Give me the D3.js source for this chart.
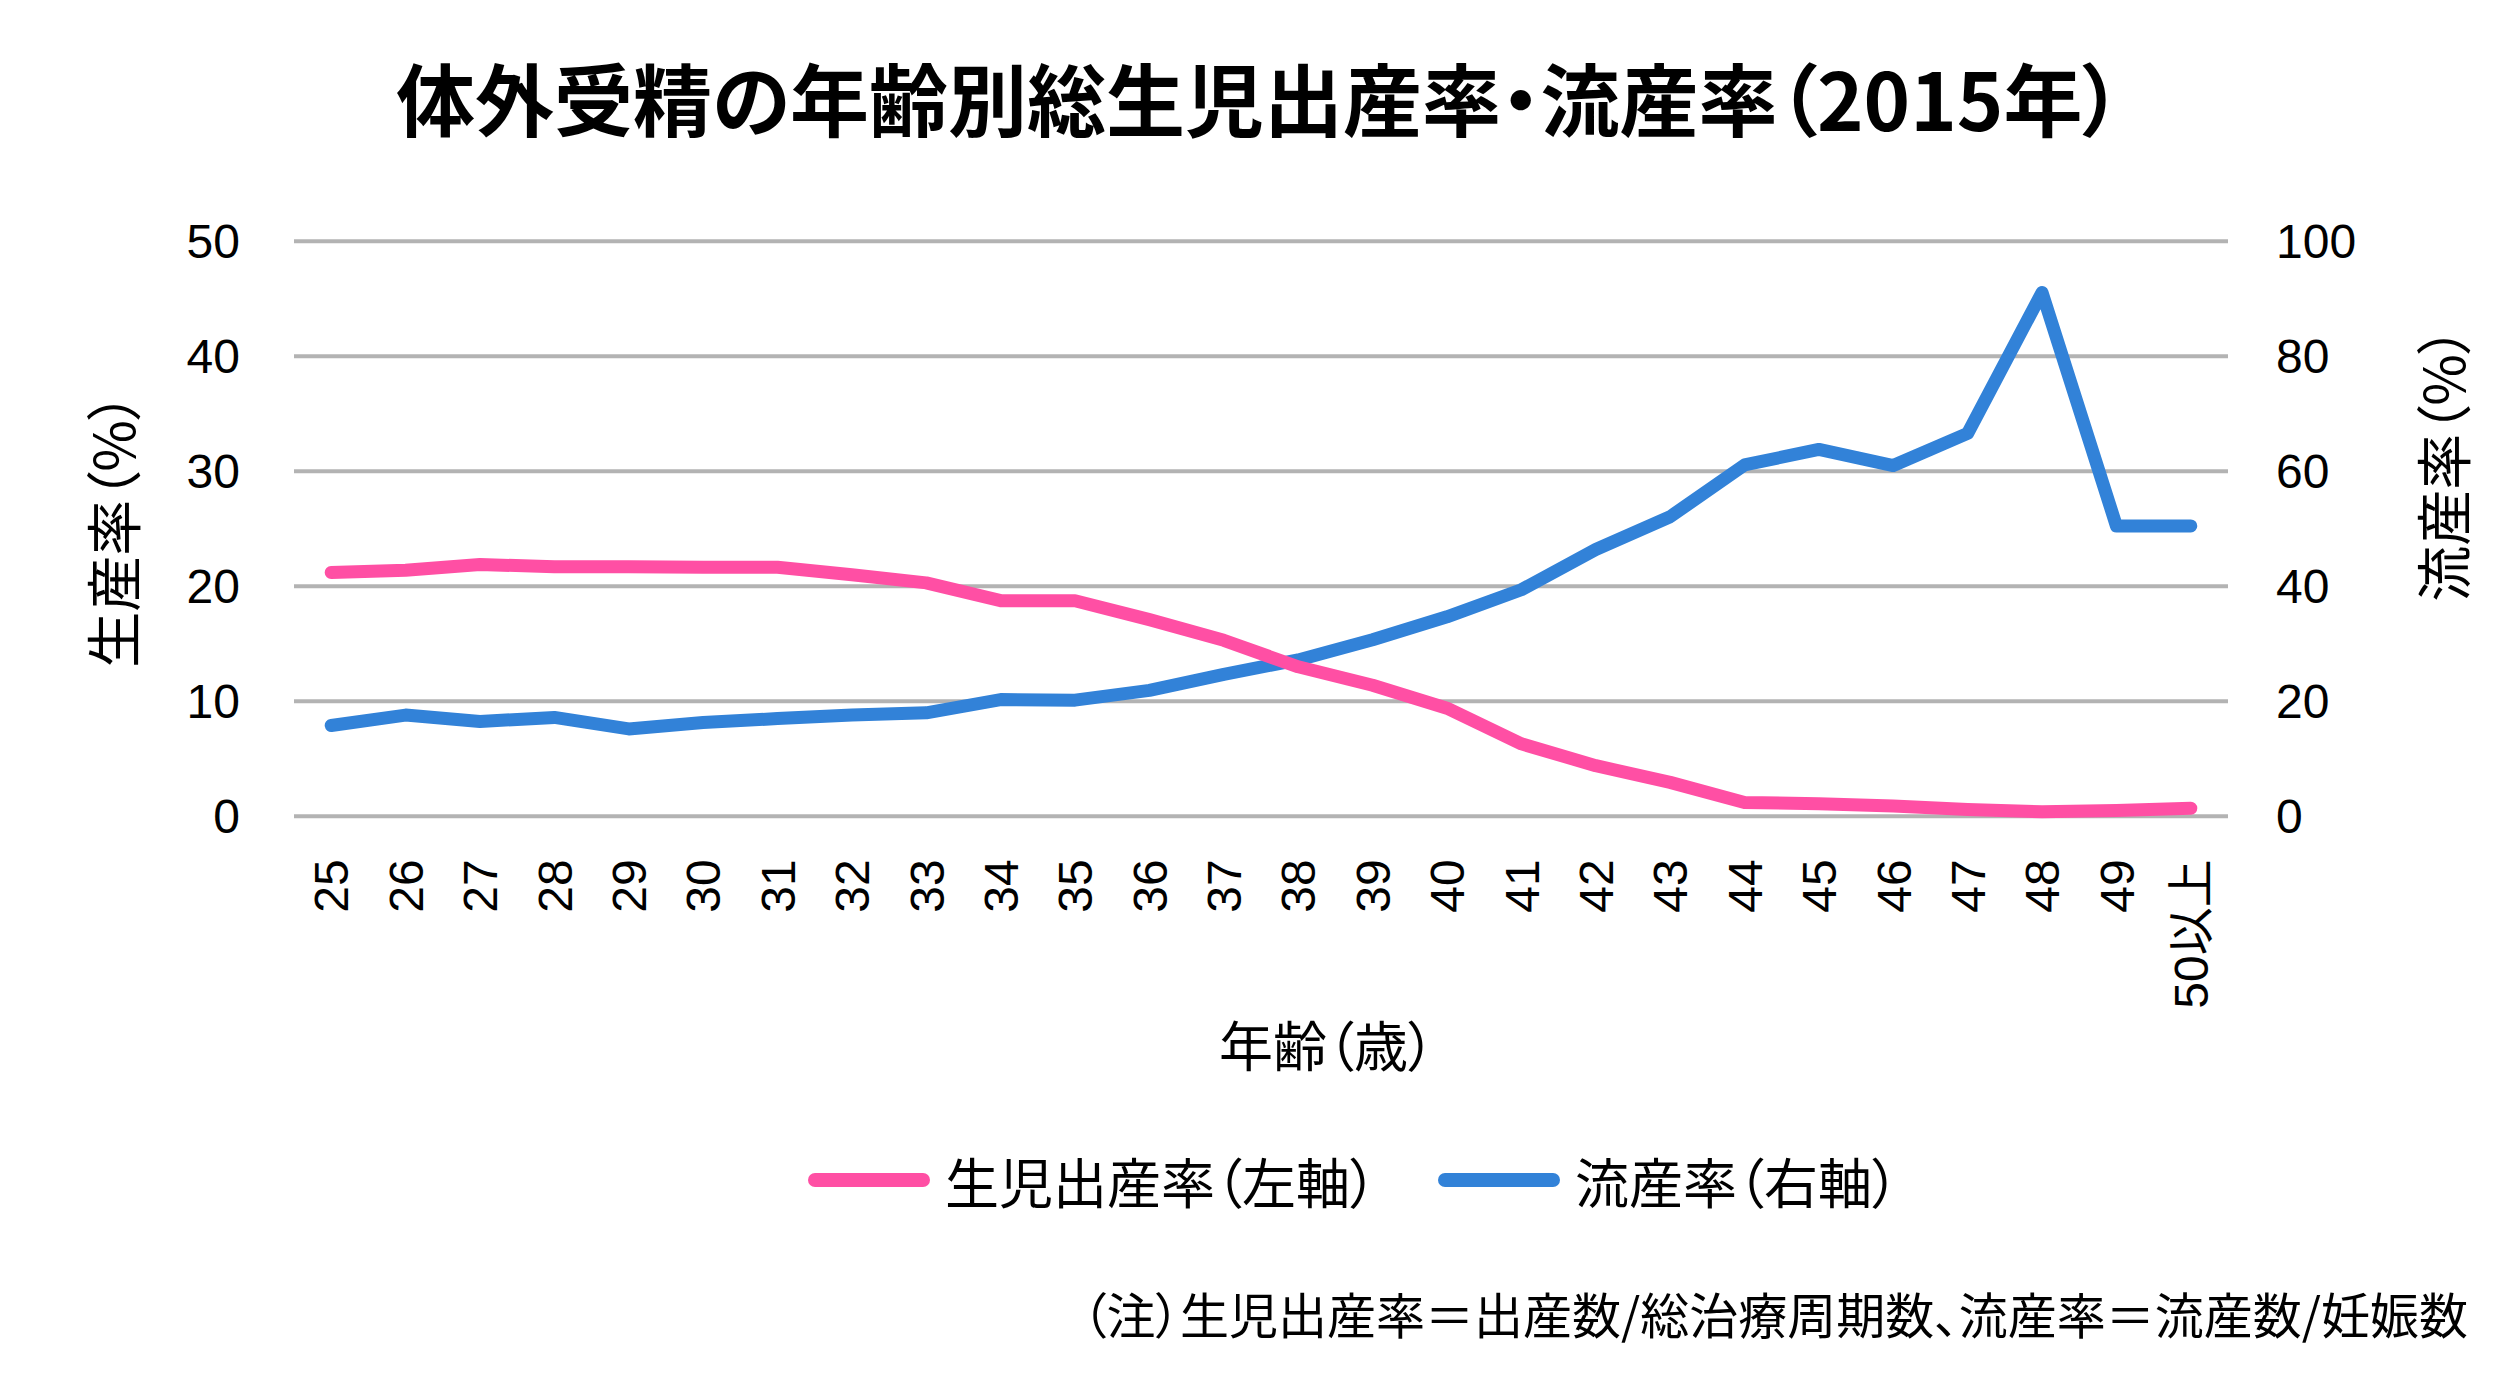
<!DOCTYPE html>
<html lang="ja">
<head>
  <meta charset="UTF-8">
  <title>体外受精の年齢別総生児出産率・流産率（2015年）</title>
  <script src="https://d3js.org/d3.v7.min.js"></script>
  <style>
    body {
      margin: 0;
      padding: 0;
      background-color: #fff;
    }
    .jp {
      font-family: "Noto Sans CJK JP", "Noto Sans", sans-serif;
      font-feature-settings: "palt";
      fill: #000;
    }
    .num {
      font-family: "Liberation Sans", "Noto Sans CJK JP", sans-serif;
      fill: #000;
    }
    .grid line {
      stroke: #b3b3b3;
      stroke-width: 4px;
    }
    .series {
      fill: none;
      stroke-width: 13px;
      stroke-linejoin: round;
      stroke-linecap: round;
    }
  </style>
</head>
<body>
  <div id="chart"></div>

  <script>
    // data
    const ages = ['25', '26', '27', '28', '29', '30', '31', '32', '33', '34', '35', '36', '37',
                  '38', '39', '40', '41', '42', '43', '44', '45', '46', '47', '48', '49', '50以上'];
    // 生児出産率 (left axis, %)
    const birthRate = [21.2, 21.4, 21.9, 21.7, 21.7, 21.65, 21.65, 21.0, 20.3, 18.75, 18.75, 17.1, 15.3,
                       13.0, 11.4, 9.4, 6.3, 4.4, 2.95, 1.2, 1.1, 0.9, 0.6, 0.4, 0.5, 0.7];
    // 流産率 (right axis, %)
    const miscarriageRate = [15.8, 17.6, 16.5, 17.2, 15.2, 16.3, 17.0, 17.6, 18.0, 20.3, 20.2, 21.9, 24.7,
                             27.2, 30.7, 34.7, 39.4, 46.4, 52.1, 61.1, 63.8, 61.0, 66.6, 91.1, 50.5, 50.5];
    const leftTicks = [0, 10, 20, 30, 40, 50];
    const rightTicks = [0, 20, 40, 60, 80, 100];

    const title = '体外受精の年齢別総生児出産率・流産率（2015年）';
    const note = '（注）生児出産率＝出産数/総治療周期数、流産率＝流産数/妊娠数';

    const pink = '#ff4fa4';
    const blue = '#3282d8';

    const width = 2500;
    const height = 1380;
    const plot = { left: 294, right: 2228, top: 241.3, bottom: 816.3 };

    const svg = d3.select('#chart')
      .append('svg')
      .attr('width', width)
      .attr('height', height);

    // scales
    const x = d3.scaleBand().domain(ages).range([plot.left, plot.right]);
    const cx = d => x(d) + x.bandwidth() / 2;
    const yL = d3.scaleLinear().domain([0, 50]).range([plot.bottom, plot.top]);
    const yR = d3.scaleLinear().domain([0, 100]).range([plot.bottom, plot.top]);

    // title
    svg.append('text')
      .attr('class', 'jp')
      .attr('x', 1259)
      .attr('y', 96)
      .attr('text-anchor', 'middle')
      .attr('dominant-baseline', 'central')
      .style('font-size', '79px')
      .style('font-weight', 700)
      .text(title);

    // horizontal gridlines
    svg.append('g')
      .attr('class', 'grid')
      .selectAll('line')
      .data(leftTicks)
      .enter()
      .append('line')
      .attr('x1', plot.left)
      .attr('x2', plot.right)
      .attr('y1', d => yL(d))
      .attr('y2', d => yL(d));

    // left axis
    const leftAxis = svg.append('g')
      .attr('transform', `translate(${plot.left},0)`)
      .call(d3.axisLeft(yL).tickValues(leftTicks).tickSize(0).tickPadding(54));
    leftAxis.select('.domain').remove();
    leftAxis.selectAll('text')
      .attr('class', 'num')
      .attr('dy', null)
      .attr('dominant-baseline', 'central')
      .style('font-size', '48px');

    // right axis
    const rightAxis = svg.append('g')
      .attr('transform', `translate(${plot.right},0)`)
      .call(d3.axisRight(yR).tickValues(rightTicks).tickSize(0).tickPadding(48));
    rightAxis.select('.domain').remove();
    rightAxis.selectAll('text')
      .attr('class', 'num')
      .attr('dy', null)
      .attr('dominant-baseline', 'central')
      .style('font-size', '48px');

    // bottom axis, labels turned on their side
    const bottomAxis = svg.append('g')
      .attr('transform', `translate(0,${plot.bottom})`)
      .call(d3.axisBottom(x).tickSize(0));
    bottomAxis.select('.domain').remove();
    bottomAxis.selectAll('text')
      .attr('class', 'num')
      .attr('transform', 'rotate(-90)')
      .attr('x', -43)
      .attr('y', 0)
      .attr('dy', '0.36em')
      .attr('text-anchor', 'end')
      .style('font-size', '48px');

    // axis titles
    svg.append('text')
      .attr('class', 'jp')
      .attr('transform', 'translate(110,530) rotate(-90)')
      .attr('text-anchor', 'middle')
      .attr('dominant-baseline', 'central')
      .style('font-size', '56px')
      .text('生産率（%）');

    svg.append('text')
      .attr('class', 'jp')
      .attr('transform', 'translate(2440,464) rotate(-90)')
      .attr('text-anchor', 'middle')
      .attr('dominant-baseline', 'central')
      .style('font-size', '56px')
      .text('流産率（%）');

    svg.append('text')
      .attr('class', 'jp')
      .attr('x', 1327)
      .attr('y', 1043)
      .attr('text-anchor', 'middle')
      .attr('dominant-baseline', 'central')
      .style('font-size', '54px')
      .text('年齢（歳）');

    // lines
    const lineL = d3.line().x((d, i) => cx(ages[i])).y(d => yL(d));
    const lineR = d3.line().x((d, i) => cx(ages[i])).y(d => yR(d));

    svg.append('path')
      .datum(miscarriageRate)
      .attr('class', 'series')
      .attr('stroke', blue)
      .attr('d', lineR);

    svg.append('path')
      .datum(birthRate)
      .attr('class', 'series')
      .attr('stroke', pink)
      .attr('d', lineL);

    // legend
    const legendItems = [
      { label: '生児出産率（左軸）', color: pink, x: 815 },
      { label: '流産率（右軸）', color: blue, x: 1445 }
    ];
    const legend = svg.append('g')
      .selectAll('g')
      .data(legendItems)
      .enter()
      .append('g')
      .attr('transform', d => `translate(${d.x},1180)`);

    legend.append('line')
      .attr('x1', 0)
      .attr('x2', 108)
      .attr('stroke', d => d.color)
      .attr('stroke-width', 14)
      .attr('stroke-linecap', 'round');

    legend.append('text')
      .attr('class', 'jp')
      .attr('x', 130)
      .attr('dominant-baseline', 'central')
      .style('font-size', '54px')
      .text(d => d.label);

    // footnote
    svg.append('text')
      .attr('class', 'jp')
      .attr('x', 2468)
      .attr('y', 1312)
      .attr('text-anchor', 'end')
      .attr('dominant-baseline', 'central')
      .style('font-size', '49px')
      .text(note);
  </script>
</body>
</html>
